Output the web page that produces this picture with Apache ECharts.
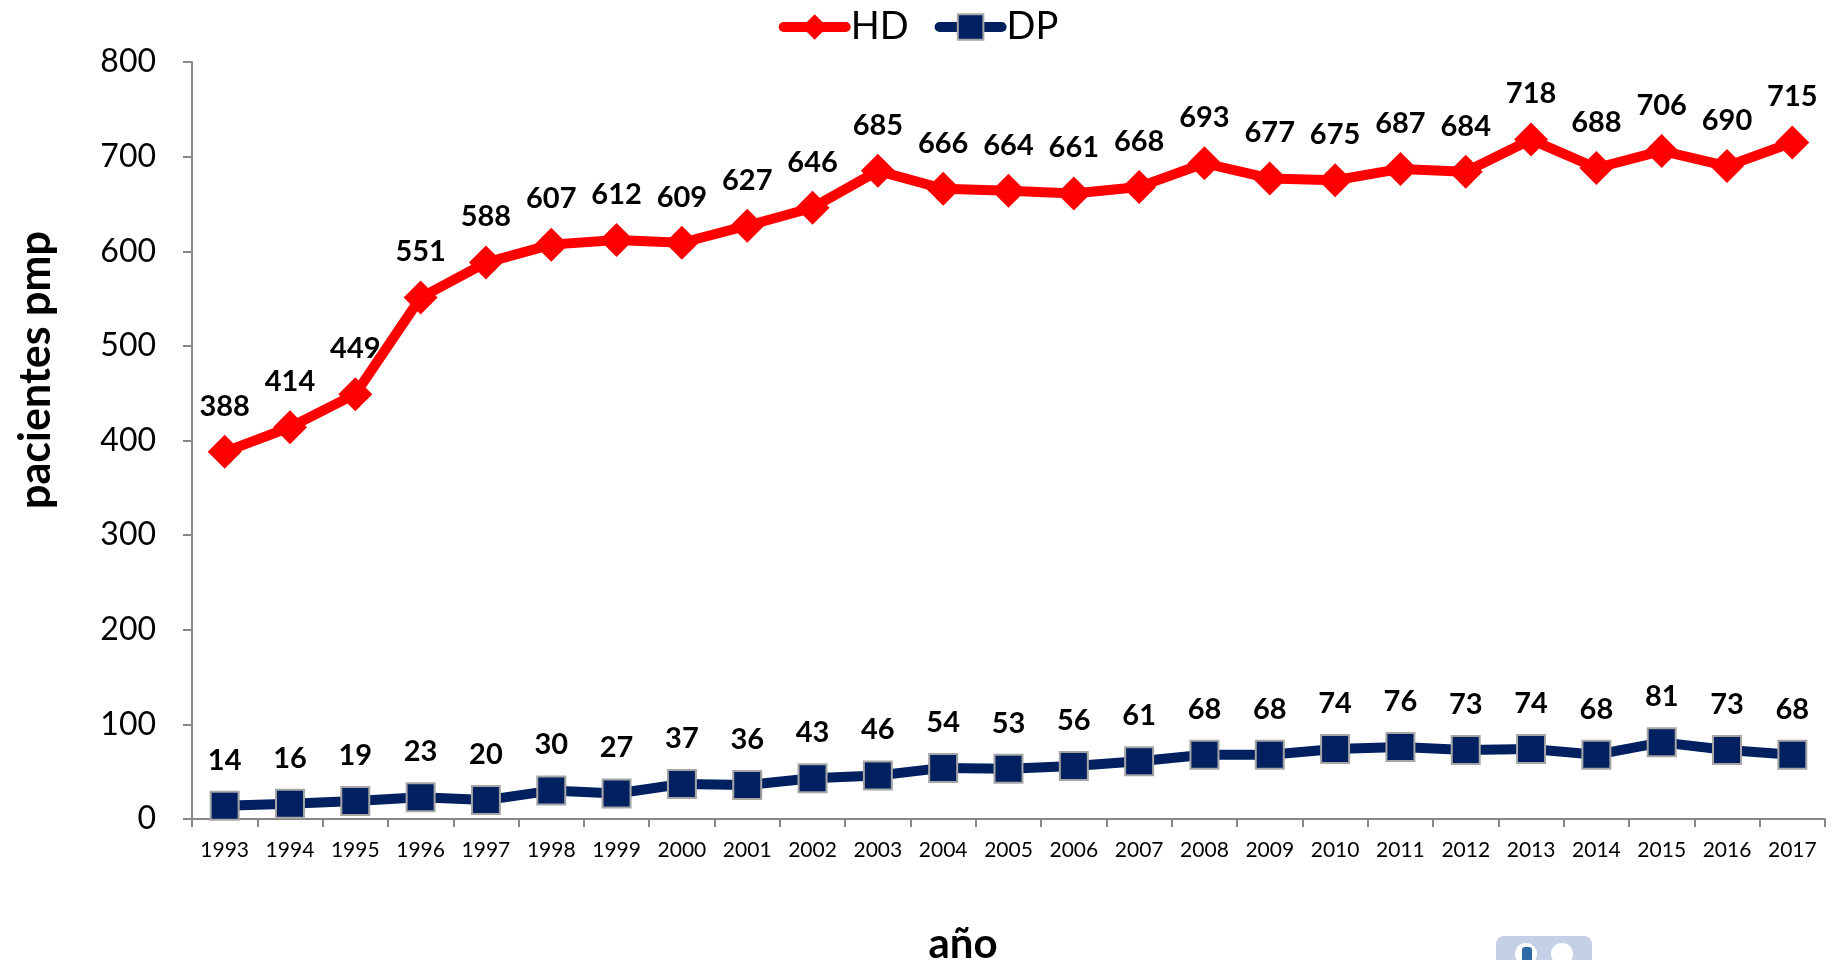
<!DOCTYPE html>
<html><head><meta charset="utf-8">
<script src="https://cdn.jsdelivr.net/npm/echarts@6/dist/echarts.min.js"></script>
<style>html,body{margin:0;padding:0;background:#fff}#c{width:1837px;height:960px}</style>
</head><body><div id="c"></div>
<script>
const years = ['1993','1994','1995','1996','1997','1998','1999','2000','2001','2002','2003','2004','2005','2006','2007','2008','2009','2010','2011','2012','2013','2014','2015','2016','2017'];
const hd = [388,414,449,551,588,607,612,609,627,646,685,666,664,661,668,693,677,675,687,684,718,688,706,690,715];
const dp = [14,16,19,23,20,30,27,37,36,43,46,54,53,56,61,68,68,74,76,73,74,68,81,73,68];
const yTicks = [0,100,200,300,400,500,600,700,800];

const FONT = 'Lato, "Open Sans", sans-serif';
const chart = echarts.init(document.getElementById('c'));
chart.setOption({
  animation: false,
  textStyle: {fontFamily: FONT},
  legend: {
    top: 3, left: 'center', itemWidth: 62, itemHeight: 32, itemGap: 26,
    textStyle: {fontSize: 38, color: '#000', fontFamily: FONT},
    lineStyle: {width: 10, cap: 'round'},
    data: ['HD','DP']
  },
  grid: {left: 192, right: 12, top: 62, bottom: 141, outerBoundsMode: 'none', containLabel: false},
  xAxis: {
    type: 'category', data: years, boundaryGap: true,
    axisLine: {lineStyle: {color: '#888', width: 2}},
    axisTick: {show: true, length: 8, lineStyle: {color: '#888', width: 2}, alignWithLabel: false},
    axisLabel: {color: '#000', fontSize: 21, margin: 21, fontFamily: FONT, interval: 0}
  },
  yAxis: {
    type: 'value', min: yTicks[0], max: yTicks[yTicks.length-1], interval: 100,
    splitLine: {show: false},
    axisLine: {show: true, lineStyle: {color: '#888', width: 2}},
    axisTick: {show: true, length: 9, lineStyle: {color: '#888', width: 2}},
    axisLabel: {color: '#000', fontSize: 32, margin: 36, fontFamily: FONT}
  },
  graphic: [
    {type: 'text', x: 36, y: 370, rotation: Math.PI / 2,
      style: {text: 'pacientes pmp', font: 'bold 43px ' + FONT, fill: '#000', align: 'center', verticalAlign: 'middle'}},
    {type: 'text', x: 963, y: 944,
      style: {text: 'año', font: 'bold 42px ' + FONT, fill: '#000', align: 'center', verticalAlign: 'middle'}},
    {type: 'rect', shape: {x: 1496, y: 936, width: 96, height: 40, r: 8}, style: {fill: '#c5d0e6'}},
    {type: 'circle', shape: {cx: 1526, cy: 954, r: 11}, style: {fill: '#fff'}},
    {type: 'circle', shape: {cx: 1562, cy: 954, r: 11}, style: {fill: '#fff'}},
    {type: 'rect', shape: {x: 1522, y: 947, width: 10, height: 16, r: 3}, style: {fill: '#2c6aa8'}}
  ],
  series: [
    {
      name: 'HD', type: 'line', data: hd,
      symbol: 'diamond', symbolSize: 34,
      lineStyle: {color: '#ff0000', width: 10},
      itemStyle: {color: '#ff0000'},
      label: {show: true, position: 'top', distance: 14, fontSize: 29, fontWeight: 'bold', color: '#000', fontFamily: FONT}
    },
    {
      name: 'DP', type: 'line', data: dp,
      symbol: 'rect', symbolSize: 28,
      lineStyle: {color: '#002060', width: 10},
      itemStyle: {color: '#002060', borderColor: '#a6a6a6', borderWidth: 2},
      label: {show: true, position: 'top', distance: 16, fontSize: 29, fontWeight: 'bold', color: '#000', fontFamily: FONT}
    }
  ]
});
</script>
</body></html>
